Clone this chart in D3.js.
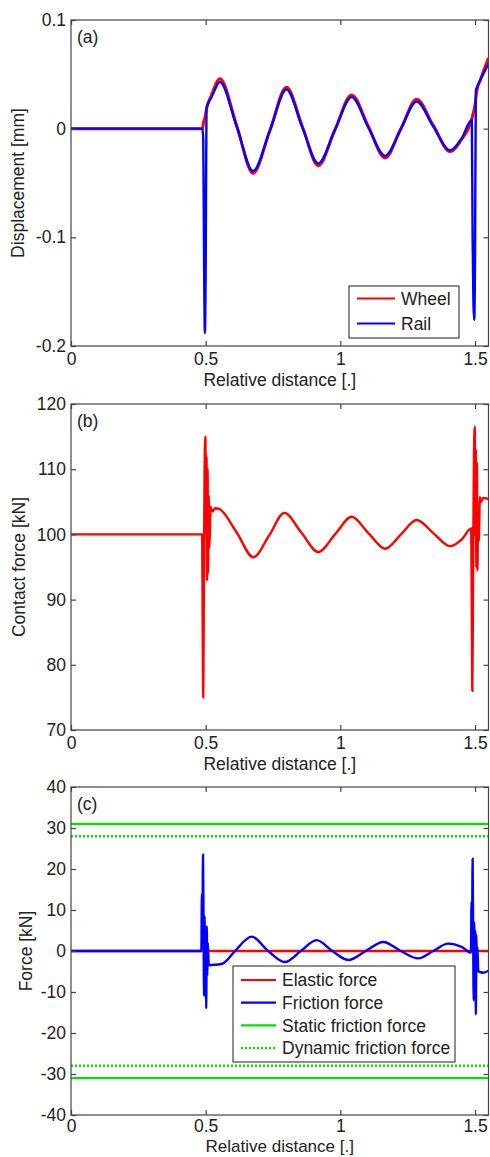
<!DOCTYPE html>
<html>
<head>
<meta charset="utf-8">
<script src="https://cdn.jsdelivr.net/npm/d3@7"></script>
<style>
  body { margin: 0; background: #fff; }
  svg text { font-family: "Liberation Sans", Arial, sans-serif; fill: #222; }
</style>
</head>
<body>
<div id="chart"></div>
<script>
// x values are "relative distance"
var xTicks = [0, 0.5, 1, 1.5];

// (a) displacement [mm]
var distA = [0, 0.488, 0.491, 0.494, 0.497, 0.500, 0.503, 0.507, 0.52, 0.553, 0.615, 0.676, 0.738, 0.800, 0.859,
  0.918, 0.980, 1.042, 1.104, 1.166, 1.225, 1.283, 1.345, 1.407, 1.45, 1.488, 1.491, 1.494, 1.497, 1.500,
  1.503, 1.507, 1.52, 1.55];
var wheel = [0, 0, 0.004, 0.008, 0.010, 0.014, 0.018, 0.022, 0.030, 0.046, 0.003, -0.041, -0.002, 0.038, 0.002,
  -0.034, -0.001, 0.031, 0.002, -0.027, 0, 0.027, 0.003, -0.021, -0.010, 0.009, 0.012, 0.015, 0.018, 0.022,
  0.028, 0.035, 0.045, 0.065];
var rail = [0, 0, -0.010, -0.120, -0.188, -0.130, 0.018, 0.022, 0.028, 0.043, 0.002, -0.039, -0.002, 0.036, 0.001,
  -0.032, -0.001, 0.029, 0.001, -0.025, 0, 0.025, 0.002, -0.020, -0.009, 0.008, -0.100, -0.160, -0.176, -0.120,
  0.035, 0.038, 0.045, 0.060];
var yTicksA = [-0.2, -0.1, 0, 0.1];

// (b) contact force [kN]
var distB = [0, 0.487, 0.489, 0.491, 0.493, 0.496, 0.499, 0.501, 0.503, 0.505, 0.507, 0.509, 0.511, 0.514,
  0.518, 0.525, 0.535, 0.55, 0.615, 0.677, 0.735, 0.792, 0.855, 0.918, 0.98, 1.042, 1.104, 1.166, 1.225,
  1.283, 1.345, 1.407, 1.45, 1.486, 1.488, 1.490, 1.493, 1.496, 1.499, 1.501, 1.503, 1.505, 1.507, 1.509,
  1.511, 1.514, 1.518, 1.523, 1.53, 1.55];
var contact = [100, 100, 85, 75, 90, 110, 115, 100, 112, 93, 110, 94, 106, 98,
  104.2, 103.5, 104, 103.9, 100.3, 96.5, 99.8, 103.3, 100.3, 97.3, 100, 102.7, 100.2, 97.8, 100,
  102.2, 100.2, 98.2, 99.2, 100.9, 88, 76, 95, 112, 116.5, 100, 113, 95, 111, 94.5,
  104, 99, 105.7, 105, 105.6, 105.4];
var yTicksB = [70, 80, 90, 100, 110, 120];

// (c) forces [kN]
var distC = [0, 0.484, 0.486, 0.488, 0.490, 0.492, 0.494, 0.496, 0.498, 0.500, 0.502, 0.504, 0.506, 0.508,
  0.511, 0.515, 0.522, 0.545, 0.565, 0.609, 0.671, 0.732, 0.794, 0.853, 0.912, 0.97, 1.029, 1.094, 1.159,
  1.224, 1.289, 1.345, 1.40, 1.45, 1.485, 1.487, 1.489, 1.491, 1.493, 1.495, 1.497, 1.499, 1.501, 1.503,
  1.505, 1.507, 1.509, 1.512, 1.518, 1.53, 1.55];
var friction = [0, 0, 14, 5, 23.5, 8, -11, 8.5, -8, 6, -14, 6, -6, 2,
  -3, -3.5, -3.4, -3.3, -3.0, 0, 3.5, 0, -2.7, 0, 2.65, 0, -2.2, 0, 2.2,
  0, -1.8, 0, 1.8, 1, -0.4, 12, 4, 22.5, 5, -12, 7, -6, 5, -15.5,
  4, -4, 1, -5, -5.1, -5.3, -4.8];
var elasticDist = [0, 1.55];
var elastic = [0, 0];
var staticFriction = 31;
var dynamicFriction = 28;
var yTicksC = [-40, -30, -20, -10, 0, 10, 20, 30, 40];

var W = 490, H = 1157
  , left = 71, right = 488.5
  , fontSize = 17.5
  , axisColor = '#444';

var svg = d3.select('#chart').append('svg')
  .attr('width', W)
  .attr('height', H);

var x = d3.scaleLinear().domain([0, 1.55]).range([left, right]);

function pts(xs, ys) {
  return xs.map(function (d, i) { return [d, ys[i]]; });
}

function panel(opt) {
  var y = d3.scaleLinear().domain(opt.domain).range([opt.bottom, opt.top]);
  var g = svg.append('g');
  var id = 'clip-' + opt.tag;

  g.append('clipPath').attr('id', id)
    .append('rect')
      .attr('x', left).attr('y', opt.top)
      .attr('width', right - left).attr('height', opt.bottom - opt.top);

  var line = d3.line()
    .x(function (d) { return x(d[0]); })
    .y(function (d) { return y(d[1]); })
    .curve(d3.curveMonotoneX);

  var plot = g.append('g').attr('clip-path', 'url(#' + id + ')');
  opt.series.forEach(function (s) {
    plot.append('path')
      .attr('d', line(s.data))
      .attr('fill', 'none')
      .attr('stroke', s.color)
      .attr('stroke-width', s.width || 2.4)
      .attr('stroke-dasharray', s.dash || null);
  });

  // extra lines that share a legend entry (negative friction limits)
  (opt.extra || []).forEach(function (s) {
    plot.append('path')
      .attr('d', line(s.data))
      .attr('fill', 'none')
      .attr('stroke', s.color)
      .attr('stroke-width', 2.4)
      .attr('stroke-dasharray', s.dash || null);
  });

  // axes, ticks pointing inward
  var bottomAxis = d3.axisBottom(x).tickValues(xTicks).tickFormat(d3.format('')).tickSizeInner(-5).tickSizeOuter(0).tickPadding(opt.tickPad || 7);
  var topAxis = d3.axisTop(x).tickValues(xTicks).tickFormat('').tickSizeInner(-5).tickSizeOuter(0);
  var leftAxis = d3.axisLeft(y).tickValues(opt.ticks).tickFormat(d3.format('')).tickSizeInner(-5).tickSizeOuter(0).tickPadding(5);
  var rightAxis = d3.axisRight(y).tickValues(opt.ticks).tickFormat('').tickSizeInner(-5).tickSizeOuter(0);

  [[bottomAxis, 0, opt.bottom], [topAxis, 0, opt.top], [leftAxis, left, 0], [rightAxis, right, 0]].forEach(function (a) {
    var ax = g.append('g')
      .attr('transform', 'translate(' + a[1] + ',' + a[2] + ')')
      .call(a[0]);
    ax.select('.domain').remove();
    ax.selectAll('line').attr('stroke', axisColor).attr('stroke-width', 1.2);
    ax.selectAll('text').attr('font-size', fontSize).attr('fill', '#222')
      .text(function () { return d3.select(this).text().replace('\u2212', '-'); });
  });

  g.append('rect')
    .attr('x', left).attr('y', opt.top)
    .attr('width', right - left).attr('height', opt.bottom - opt.top)
    .attr('fill', 'none').attr('stroke', axisColor).attr('stroke-width', 1.2);

  g.append('text')
    .attr('x', left + 6).attr('y', opt.top + 23)
    .attr('font-size', fontSize)
    .text('(' + opt.tag + ')');

  g.append('text')
    .attr('transform', 'translate(' + opt.ylabelX + ',' + (opt.top + opt.bottom) / 2 + ') rotate(-90)')
    .attr('text-anchor', 'middle')
    .attr('dy', '0.35em')
    .attr('font-size', fontSize)
    .text(opt.ylabel);

  g.append('text')
    .attr('x', (left + right) / 2).attr('y', opt.bottom + (opt.xlabelGap || 40))
    .attr('text-anchor', 'middle')
    .attr('font-size', opt.xlabelSize || fontSize)
    .text('Relative distance [.]');

  if (opt.legend) {
    var L = opt.legend;
    var lg = g.append('g');
    lg.append('rect')
      .attr('x', L.x).attr('y', L.y).attr('width', L.w).attr('height', L.h)
      .attr('fill', '#fff').attr('stroke', axisColor).attr('stroke-width', 1.2);
    opt.series.forEach(function (s, i) {
      var yy = L.y + L.first + i * L.step;
      lg.append('line')
        .attr('x1', L.x + 8).attr('x2', L.x + 8 + L.len)
        .attr('y1', yy).attr('y2', yy)
        .attr('stroke', s.color).attr('stroke-width', 2.2)
        .attr('stroke-dasharray', s.dash || null);
      lg.append('text')
        .attr('x', L.x + 8 + L.len + 6).attr('y', yy)
        .attr('dy', '0.35em')
        .attr('font-size', fontSize)
        .text(s.name);
    });
  }
}

panel({
  tag: 'a', top: 20, bottom: 346, domain: [-0.2, 0.1], ticks: yTicksA,
  ylabel: 'Displacement [mm]', ylabelX: 18,
  series: [
    {name: 'Wheel', color: '#ff0000', width: 3, data: pts(distA, wheel)},
    {name: 'Rail', color: '#0000ff', data: pts(distA, rail)}
  ],
  legend: {x: 349, y: 286, w: 110, h: 52, first: 12.5, step: 25, len: 38}
});

panel({
  tag: 'b', top: 404, bottom: 730, domain: [70, 120], ticks: yTicksB,
  ylabel: 'Contact force [kN]', ylabelX: 19,
  series: [
    {name: 'Contact force', color: '#ff0000', data: pts(distB, contact)}
  ]
});

panel({
  tag: 'c', top: 787, bottom: 1115, domain: [-40, 40], ticks: yTicksC,
  ylabel: 'Force [kN]', ylabelX: 26, xlabelGap: 37, xlabelSize: 17, tickPad: 5,
  series: [
    {name: 'Elastic force', color: '#ff0000', data: pts(elasticDist, elastic)},
    {name: 'Friction force', color: '#0000ff', data: pts(distC, friction)},
    {name: 'Static friction force', color: '#00e000', data: pts(elasticDist, [staticFriction, staticFriction])},
    {name: 'Dynamic friction force', color: '#00e000', dash: '2,2', data: pts(elasticDist, [dynamicFriction, dynamicFriction])}
  ],
  extra: [
    {color: '#00e000', data: pts(elasticDist, [-staticFriction, -staticFriction])},
    {color: '#00e000', dash: '2,2', data: pts(elasticDist, [-dynamicFriction, -dynamicFriction])}
  ],
  legend: {x: 233, y: 966, w: 222, h: 96, first: 14, step: 22.7, len: 35}
});
</script>
</body>
</html>
